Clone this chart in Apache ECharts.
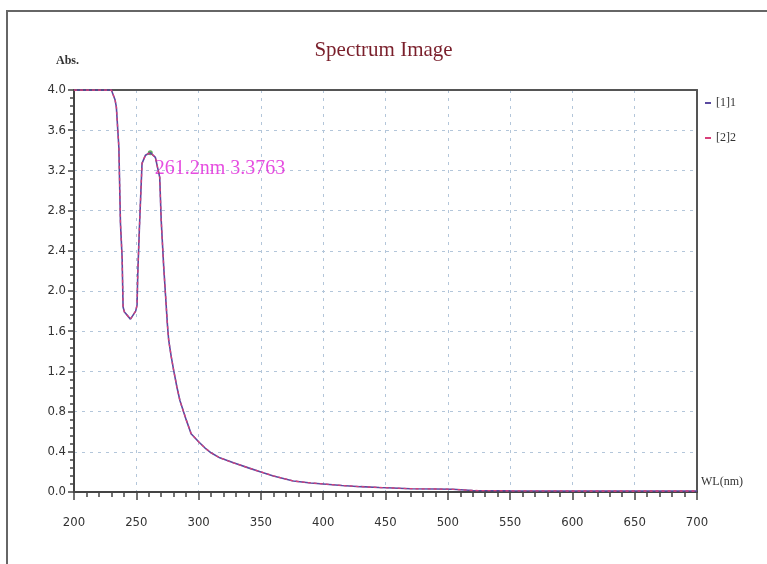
<!DOCTYPE html>
<html>
<head>
<meta charset="utf-8">
<script src="https://cdn.jsdelivr.net/npm/echarts@6/dist/echarts.min.js"></script>
<style>
html, body { margin: 0; padding: 0; background: #fff; }
#main { width: 767px; height: 564px; }
</style>
</head>
<body>
<div id="main"></div>
<script>
// wavelength (nm) and absorbance
var wavelength = [200, 230, 233, 234, 236, 237.3, 238.6, 239.4, 240.5, 245.3, 249.5, 250.6, 251.2, 252.5, 254.6, 257.3, 261.2, 265.3, 268.8, 270, 272, 273.5, 275, 276, 278, 280, 282.5, 285, 290, 294, 300, 305, 310, 317, 328, 340, 350, 360, 376, 390, 400, 415, 430, 445, 456, 470, 490, 504, 520, 550, 600, 650, 700];
var absorbance = [4.0, 4.0, 3.90, 3.83, 3.43, 2.67, 2.34, 1.84, 1.79, 1.72, 1.80, 1.86, 2.18, 2.63, 3.27, 3.35, 3.3763, 3.33, 3.13, 2.70, 2.24, 1.95, 1.66, 1.51, 1.35, 1.21, 1.05, 0.91, 0.72, 0.58, 0.50, 0.44, 0.39, 0.34, 0.29, 0.24, 0.20, 0.16, 0.11, 0.09, 0.08, 0.065, 0.053, 0.045, 0.04, 0.033, 0.03, 0.027, 0.015, 0.012, 0.01, 0.01, 0.01];
var seriesNames = ['[1]1', '[2]2'];
var peak = [261.2, 3.3763];
var peakLabel = '261.2nm 3.3763';

var spectrum = wavelength.map(function (w, i) { return [w, absorbance[i]]; });

var tickFont = '"DejaVu Sans Condensed", "Liberation Sans Narrow", sans-serif';

var dom = document.getElementById("main");
var myChart = echarts.init(dom);
var option = {
    animation: false,
    backgroundColor: '#fff',
    title: {
        text: 'Spectrum Image',
        left: 'center',
        top: 35,
        textStyle: {
            color: '#7a1f2b',
            fontFamily: 'Liberation Serif',
            fontWeight: 'normal',
            fontSize: 21
        }
    },
    legend: {
        data: seriesNames,
        orient: 'vertical',
        left: 700,
        top: 92,
        itemGap: 23,
        itemWidth: 6,
        itemHeight: 2,
        icon: 'rect',
        textStyle: { fontFamily: 'Liberation Serif', fontSize: 12, color: '#333' }
    },
    grid: {
        left: 74,
        right: 70,
        top: 90,
        bottom: 72,
        show: false
    },
    xAxis: [
        {
            type: 'value',
            min: 200,
            max: 700,
            interval: 50,
            axisLine: { onZero: false, lineStyle: { color: '#444', width: 2 } },
            axisTick: { length: 8, lineStyle: { color: '#444', width: 1.5 } },
            minorTick: { show: true, splitNumber: 5, length: 5, lineStyle: { color: '#444', width: 1.5 } },
            axisLabel: { margin: 24, color: '#333', fontFamily: tickFont, fontSize: 13 },
            splitLine: { showMinLine: false, showMaxLine: false, lineStyle: { color: '#b3c6da', type: [3, 5] } }
        },
        {
            // top border of the plot frame
            type: 'value',
            position: 'top',
            min: 200,
            max: 700,
            axisLine: { show: true, onZero: false, lineStyle: { color: '#555', width: 2 } },
            axisTick: { show: false },
            axisLabel: { show: false },
            splitLine: { show: false }
        }
    ],
    yAxis: [
        {
            type: 'value',
            min: 0,
            max: 4,
            interval: 0.4,
            axisLine: { onZero: false, lineStyle: { color: '#444', width: 2 } },
            axisTick: { length: 6, lineStyle: { color: '#444', width: 1.5 } },
            minorTick: { show: true, splitNumber: 5, length: 4, lineStyle: { color: '#444', width: 1.5 } },
            axisLabel: {
                margin: 8, color: '#333', fontFamily: tickFont, fontSize: 13,
                formatter: function (v) { return v.toFixed(1); }
            },
            splitLine: { showMinLine: false, showMaxLine: false, lineStyle: { color: '#b3c6da', type: [3, 5] } }
        },
        {
            // right border of the plot frame
            type: 'value',
            position: 'right',
            min: 0,
            max: 4,
            axisLine: { show: true, onZero: false, lineStyle: { color: '#555', width: 2 } },
            axisTick: { show: false },
            axisLabel: { show: false },
            splitLine: { show: false }
        }
    ],
    graphic: [
        {
            type: 'rect',
            shape: { x: 7, y: 11, width: 800, height: 600 },
            style: { fill: 'none', stroke: '#666', lineWidth: 2 },
            silent: true
        },
        {
            type: 'text',
            left: 56,
            top: 55,
            style: { text: 'Abs.', fontFamily: 'Liberation Serif', fontSize: 12, fontWeight: 'bold', fill: '#333' }
        },
        {
            type: 'text',
            left: 701,
            top: 476,
            style: { text: 'WL(nm)', fontFamily: 'Liberation Serif', fontSize: 12, fill: '#333' }
        }
    ],
    series: [
        {
            name: seriesNames[0],
            type: 'line',
            data: spectrum,
            showSymbol: false,
            color: '#5a4aa0',
            lineStyle: { width: 1.6 }
        },
        {
            name: seriesNames[1],
            type: 'line',
            data: spectrum,
            showSymbol: false,
            color: '#d8407a',
            lineStyle: { width: 1.3, type: [3, 3] }
        },
        {
            name: 'peak',
            type: 'scatter',
            data: [peak],
            symbolSize: 5,
            itemStyle: { color: '#3a9a3a' },
            label: {
                show: true,
                position: 'right',
                distance: 2,
                offset: [0, 16],
                formatter: peakLabel,
                color: '#e020d8',
                fontFamily: 'Liberation Serif',
                fontSize: 20
            }
        }
    ]
};
myChart.setOption(option, true);

window.addEventListener("resize", function () {
    myChart.resize();
});
</script>
</body>
</html>
